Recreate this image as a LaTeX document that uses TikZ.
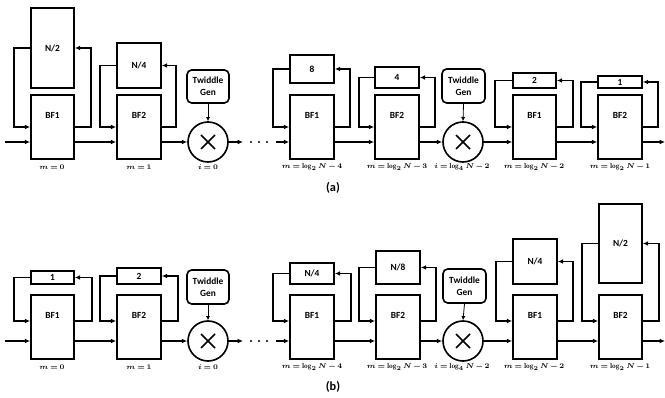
\documentclass[tikz,border=0pt]{standalone}
\usepackage{fontspec}
\setsansfont{Carlito}
\usetikzlibrary{arrows.meta}
\newcommand\blk[6]{\node[blk, minimum width={(#4-#2)*0.03cm}, minimum height={(#5-#3)*0.03cm}] (#1) at ({(#2+#4)/2},{(#3+#5)/2}) {#6};}
\newcommand\bfb[6]{\node[blk, minimum width={(#4-#2)*0.03cm}, minimum height={(#5-#3)*0.03cm}, label={[bflab]north:#6}] (#1) at ({(#2+#4)/2},{(#3+#5)/2}) {};}
\newcommand\fbk[5]{%
  \draw[wire] (#1.east |- 0,#5) -| (#4,0 |- #2.east) -- (#2.east);
  \draw[wire] (#2.west) -| (#3,#5) -- (#1.west |- 0,#5);}
\newcommand\twd[5]{\node[twid, minimum width={(#4-#2)*0.03cm}, minimum height={(#5-#3)*0.03cm}] (#1) at ({(#2+#4)/2},{(#3+#5)/2}) {Twiddle\\Gen};}
\newcommand\labfont{\fontsize{6.3}{8}\selectfont\boldmath\thickmuskip=3.5mu\medmuskip=2.5mu}
\begin{document}
\begin{tikzpicture}[x=0.03cm,y=-0.03cm,
  blk/.style={draw, line width=1.4pt, inner sep=0pt, font=\sffamily\bfseries\fontsize{8}{10}\selectfont},
  bflab/.style={anchor=north, inner sep=0pt, yshift=-0.55cm, font=\sffamily\bfseries\fontsize{8}{10}\selectfont},
  twid/.style={draw, line width=1.4pt, rounded corners=4pt, inner sep=0pt, align=center, font=\sffamily\bfseries\fontsize{8}{10.5}\selectfont},
  mult/.style={draw, circle, line width=1.4pt, minimum size=1.2cm, inner sep=0pt,
    path picture={\draw[line width=1.3pt] (path picture bounding box.center) ++(-0.21cm,-0.21cm) -- ++(0.42cm,0.42cm);
                  \draw[line width=1.3pt] (path picture bounding box.center) ++(-0.21cm,0.21cm) -- ++(0.42cm,-0.42cm);}},
  wire/.style={line width=1.2pt, -{Latex[length=4.5pt,width=4pt]}},
  twire/.style={line width=0.7pt, -{Latex[length=3.5pt,width=3.5pt]}},
  lab/.style={font=\labfont, inner sep=0pt},
  captxt/.style={font=\sffamily\bfseries\fontsize{10.5}{12}\selectfont, inner sep=0pt},
  dotm/.style={fill, circle, inner sep=0pt, minimum size=2pt}]
\useasboundingbox (0,0) rectangle (665,398);

% ================= (a) =================
\blk{n2a}{31}{8}{74}{88}{N/2}
\bfb{bf1a}{31}{95}{74}{159}{BF1}
\blk{n4a}{117}{43}{161}{88}{N/4}
\bfb{bf2a}{117}{95}{161}{159}{BF2}
\twd{twa}{187}{70}{229}{103}
\node[mult] (mula) at (208,142) {};
\blk{n8a}{290}{55}{334}{83}{8}
\bfb{bf3a}{290}{95}{334}{159}{BF1}
\blk{n4ba}{375}{67}{419}{88}{4}
\bfb{bf4a}{375}{95}{419}{159}{BF2}
\twd{tw2a}{442}{69}{485}{103}
\node[mult] (mul2a) at (463,142) {};
\blk{n2ba}{513}{73}{556}{88}{2}
\bfb{bf5a}{513}{95}{556}{159}{BF1}
\blk{n1a}{598}{76}{642}{88}{1}
\bfb{bf6a}{598}{95}{642}{159}{BF2}

\coordinate (ina) at (5,142);
\coordinate (da1) at (243,142);
\coordinate (da2) at (276,142);
\coordinate (outa) at (665,142);
\draw[wire] (ina) -- (bf1a.west |- ina);
\draw[wire] (bf1a.east |- ina) -- (bf2a.west |- ina);
\draw[wire] (bf2a.east |- ina) -- (mula.west);
\draw[wire] (mula.east) -- (da1);
\node[dotm] (dota1) at (251,142) {};
\node[dotm] (dota2) at (259,142) {};
\node[dotm] (dota3) at (267,142) {};
\draw[wire] (da2) -- (bf3a.west |- da2);
\draw[wire] (bf3a.east |- ina) -- (bf4a.west |- ina);
\draw[wire] (bf4a.east |- ina) -- (mul2a.west);
\draw[wire] (mul2a.east) -- (bf5a.west |- ina);
\draw[wire] (bf5a.east |- ina) -- (bf6a.west |- ina);
\draw[wire] (bf6a.east |- ina) -- (outa);
\draw[twire] (twa.south) -- (mula.north);
\draw[twire] (tw2a.south) -- (mul2a.north);
\fbk{bf1a}{n2a}{14}{91}{127}
\fbk{bf2a}{n4a}{100}{176}{127}
\fbk{bf3a}{n8a}{273}{350}{127}
\fbk{bf4a}{n4ba}{359}{435}{127}
\fbk{bf5a}{n2ba}{495}{573}{127}
\fbk{bf6a}{n1a}{581}{658}{127}

\node[lab] (la1) at (52,167) {$m=0$};
\node[lab] (la2) at (139,167) {$m=1$};
\node[lab] (la3) at (208,167) {$i=0$};
\node[lab] (la4) at (312,167) {$m=\log_2 N-4$};
\node[lab] (la5) at (397,167) {$m=\log_2 N-3$};
\node[lab] (la6) at (462,167) {$i=\log_4 N-2$};
\node[lab] (la7) at (534,167) {$m=\log_2 N-2$};
\node[lab] (la8) at (620,167) {$m=\log_2 N-1$};
\node[captxt] (capa) at (333,188) {(a)};

% ================= (b) =================
\blk{n1b}{31}{271}{74}{284}{1}
\bfb{bf1b}{31}{295}{74}{359}{BF1}
\blk{n2b}{117}{268}{161}{284}{2}
\bfb{bf2b}{117}{295}{161}{359}{BF2}
\twd{twb}{187}{270}{229}{304}
\node[mult] (mulb) at (208,341) {};
\blk{n4b}{290}{263}{334}{284}{N/4}
\bfb{bf3b}{290}{295}{334}{359}{BF1}
\blk{n8b}{376}{251}{420}{284}{N/8}
\bfb{bf4b}{376}{295}{420}{359}{BF2}
\twd{tw2b}{443}{269}{486}{303}
\node[mult] (mul2b) at (463,341) {};
\blk{n4cb}{513}{239}{557}{284}{N/4}
\bfb{bf5b}{513}{295}{557}{359}{BF1}
\blk{n2cb}{599}{204}{642}{283}{N/2}
\bfb{bf6b}{599}{295}{642}{359}{BF2}

\coordinate (inb) at (5,341);
\coordinate (db1) at (243,341);
\coordinate (db2) at (276,341);
\coordinate (outb) at (665,341);
\draw[wire] (inb) -- (bf1b.west |- inb);
\draw[wire] (bf1b.east |- inb) -- (bf2b.west |- inb);
\draw[wire] (bf2b.east |- inb) -- (mulb.west);
\draw[wire] (mulb.east) -- (db1);
\node[dotm] (dotb1) at (251,341) {};
\node[dotm] (dotb2) at (259,341) {};
\node[dotm] (dotb3) at (267,341) {};
\draw[wire] (db2) -- (bf3b.west |- db2);
\draw[wire] (bf3b.east |- inb) -- (bf4b.west |- inb);
\draw[wire] (bf4b.east |- inb) -- (mul2b.west);
\draw[wire] (mul2b.east) -- (bf5b.west |- inb);
\draw[wire] (bf5b.east |- inb) -- (bf6b.west |- inb);
\draw[wire] (bf6b.east |- inb) -- (outb);
\draw[twire] (twb.south) -- (mulb.north);
\draw[twire] (tw2b.south) -- (mul2b.north);
\fbk{bf1b}{n1b}{14}{92}{321}
\fbk{bf2b}{n2b}{100}{178}{321}
\fbk{bf3b}{n4b}{273}{351}{321}
\fbk{bf4b}{n8b}{359}{436}{321}
\fbk{bf5b}{n4cb}{496}{573}{321}
\fbk{bf6b}{n2cb}{582}{659}{321}

\node[lab] (lb1) at (52,367) {$m=0$};
\node[lab] (lb2) at (139,367) {$m=1$};
\node[lab] (lb3) at (208,367) {$i=0$};
\node[lab] (lb4) at (312,367) {$m=\log_2 N-4$};
\node[lab] (lb5) at (397,367) {$m=\log_2 N-3$};
\node[lab] (lb6) at (462,367) {$i=\log_4 N-2$};
\node[lab] (lb7) at (534,367) {$m=\log_2 N-2$};
\node[lab] (lb8) at (620,367) {$m=\log_2 N-1$};
\node[captxt] (capb) at (333,387) {(b)};
\end{tikzpicture}
\end{document}
